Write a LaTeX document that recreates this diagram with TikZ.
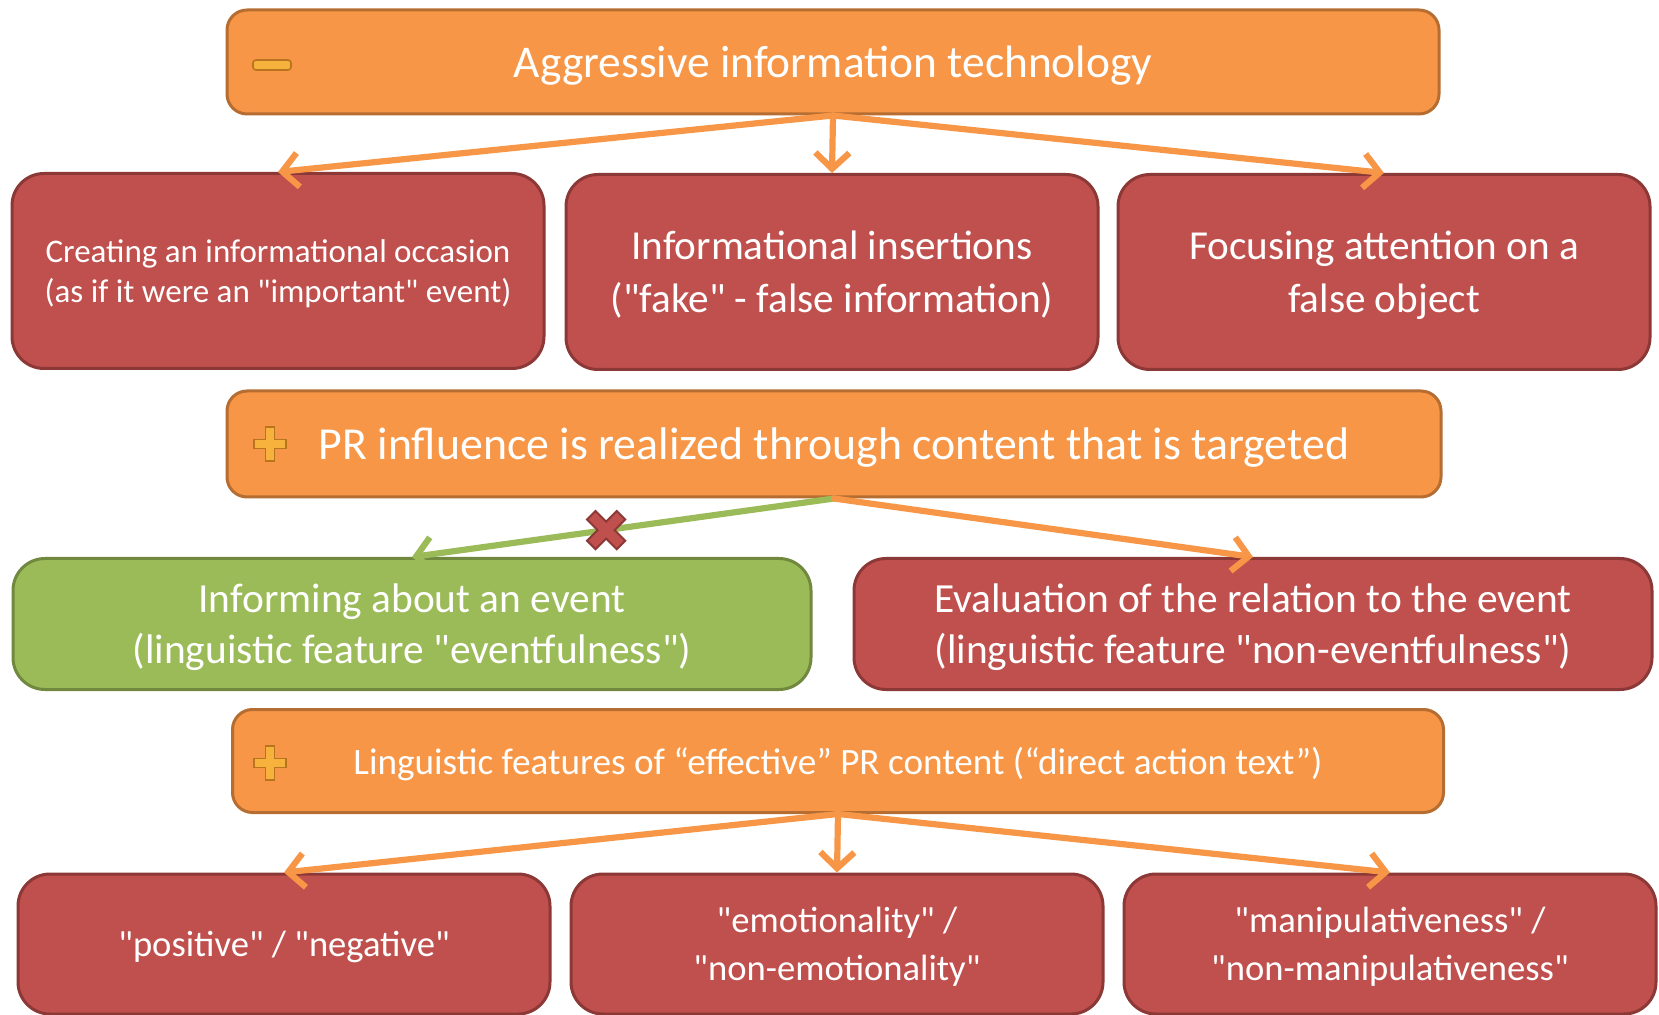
\documentclass[tikz,border=0pt]{standalone}
\usepackage{fontspec}
\setmainfont{Carlito}[Ligatures=TeXOff]
\usetikzlibrary{arrows.meta}
\definecolor{boxorange}{HTML}{F79646}
\definecolor{lineorange}{HTML}{B66D31}
\definecolor{boxred}{HTML}{C0504D}
\definecolor{linered}{HTML}{8C3836}
\definecolor{boxgreen}{HTML}{9BBB59}
\definecolor{linegreen}{HTML}{71893F}
\definecolor{icongold}{HTML}{F6B23C}
\definecolor{iconbrown}{HTML}{B8741E}
\begin{document}
\begin{tikzpicture}[x=0.5pt,y=-0.5pt]
\tikzstyle{orangebox}=[rectangle,rounded corners=10pt,draw=lineorange,line width=1.5pt,fill=boxorange,text=white,align=center,inner sep=0pt,text depth=0pt,minimum width=606pt,minimum height=52pt]
\tikzstyle{redbox}=[rectangle,rounded corners=16pt,draw=linered,line width=1.5pt,fill=boxred,text=white,align=center,inner sep=0pt,text depth=0pt,minimum width=266pt,minimum height=97.5pt]
\tikzstyle{greenbox}=[redbox,draw=linegreen,fill=boxgreen,minimum width=399pt,minimum height=65.5pt]
\tikzstyle{orangearrow}=[draw=boxorange,line width=3.1pt,line cap=round,-{Straight Barb[length=8pt,width=17pt]}]
\tikzstyle{greenarrow}=[orangearrow,draw=boxgreen]
\tikzstyle{icon}=[fill=icongold,draw=iconbrown,line width=0.8pt]
\tikzstyle{crossicon}=[fill=boxred,draw=linered,line width=1pt]
\useasboundingbox (0,0) rectangle (1659,1015);
\node[style={orangebox,font=\fontsize{22.7}{26}\selectfont}] (1) at (833,62) {Aggressive information technology};
\node[style={redbox,font=\fontsize{16.5}{20}\selectfont}] (2) at (278,271) {Creating an informational occasion\\(as if it were an "important" event)};
\node[style={redbox,font=\fontsize{20.6}{26.5}\selectfont}] (3) at (832,272) {Informational insertions\\("fake" - false information)};
\node[style={redbox,font=\fontsize{20.6}{26.5}\selectfont}] (4) at (1384,272) {Focusing attention on a\\false object};
\node[style={orangebox,font=\fontsize{22.9}{26}\selectfont,minimum width=607pt,minimum height=53pt}] (5) at (834,444) {PR influence is realized through content that is targeted};
\node[style={greenbox,font=\fontsize{20.7}{25.4}\selectfont}] (6) at (412,624) {Informing about an event\\(linguistic feature "eventfulness")};
\node[style={greenbox,draw=linered,fill=boxred,font=\fontsize{20.7}{25.4}\selectfont}] (7) at (1253,624) {Evaluation of the relation to the event\\(linguistic feature "non-eventfulness")};
\node[style={orangebox,font=\fontsize{18.6}{22}\selectfont,minimum width=605.5pt,minimum height=51.5pt}] (8) at (838,761) {Linguistic features of “effective” PR content (“direct action text”)};
\node[style={redbox,font=\fontsize{18.3}{23.8}\selectfont,minimum height=70pt}] (9) at (284,944) {"positive" / "negative"};
\node[style={redbox,font=\fontsize{18.3}{23.8}\selectfont,minimum height=70pt}] (10) at (837,944) {"emotionality" /\\"non-emotionality"};
\node[style={redbox,font=\fontsize{18.3}{23.8}\selectfont,minimum height=70pt}] (11) at (1390,944) {"manipulativeness" /\\"non-manipulativeness"};
% icons
\filldraw[icon,rounded corners=1.5pt] (253,60) rectangle (291,70);
\filldraw[icon,shift={(270,444)}] (-4.5,-17) -- (4.5,-17) -- (4.5,-4.5) -- (16,-4.5) -- (16,4.5) -- (4.5,4.5) -- (4.5,17) -- (-4.5,17) -- (-4.5,4.5) -- (-16,4.5) -- (-16,-4.5) -- (-4.5,-4.5) -- cycle;
\filldraw[icon,shift={(270,763)}] (-4.5,-17) -- (4.5,-17) -- (4.5,-4.5) -- (16,-4.5) -- (16,4.5) -- (4.5,4.5) -- (4.5,17) -- (-4.5,17) -- (-4.5,4.5) -- (-16,4.5) -- (-16,-4.5) -- (-4.5,-4.5) -- cycle;
\path[]
	(1.south) edge[orangearrow] (2.north)
    (1.south) edge[orangearrow] (3.north)
    (1.south) edge[orangearrow] (4.north);
\path[]
	(5.south) edge[greenarrow] node[pos=0.54,inner sep=0pt,minimum size=0pt] (12) {} (6.north)
    (5.south) edge[orangearrow] (7.north);
\path[]
	(8.south) edge[orangearrow] (9.north)
    (8.south) edge[orangearrow] (10.north)
    (8.south) edge[orangearrow] (11.north);
% cross on the green arrow
\filldraw[crossicon,shift={(12)},rotate=45] (-6,-21) -- (6,-21) -- (6,-6) -- (21,-6) -- (21,6) -- (6,6) -- (6,21) -- (-6,21) -- (-6,6) -- (-21,6) -- (-21,-6) -- (-6,-6) -- cycle;
\end{tikzpicture}
\end{document}
